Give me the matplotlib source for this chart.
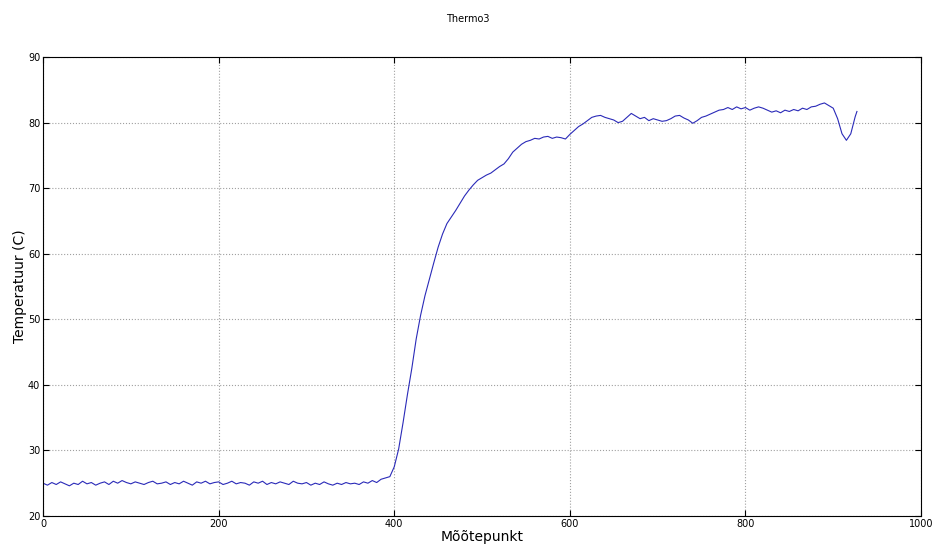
import numpy as np
import matplotlib
matplotlib.use("Agg")
import matplotlib.pyplot as plt

baseline = [25.0, 24.7, 25.1, 24.8, 25.2, 24.9, 24.6, 25.0, 24.8, 25.3,
            24.9, 25.1, 24.7, 25.0, 25.2, 24.8, 25.3, 25.0, 25.4, 25.1,
            24.9, 25.2, 25.0, 24.8, 25.1, 25.3, 24.9, 25.0, 25.2, 24.8,
            25.1, 24.9, 25.3, 25.0, 24.7, 25.2, 25.0, 25.3, 24.9, 25.1,
            25.2, 24.8, 25.0, 25.3, 24.9, 25.1, 25.0, 24.7, 25.2, 25.0,
            25.3, 24.8, 25.1, 24.9, 25.2, 25.0, 24.8, 25.3, 25.0, 24.9,
            25.1, 24.7, 25.0, 24.8, 25.2, 24.9, 24.7, 25.0, 24.8, 25.1,
            24.9, 25.0, 24.8, 25.2, 25.0, 25.4, 25.1, 25.6]
rise = [25.8, 26.0, 27.5, 30.2, 34.2, 38.5, 42.5, 47.0, 50.6, 53.6,
        56.1, 58.6, 61.0, 63.0, 64.6, 65.6, 66.6, 67.7, 68.8, 69.7,
        70.5, 71.2, 71.6, 72.0, 72.3, 72.8, 73.3, 73.7, 74.5, 75.5,
        76.1, 76.7, 77.1, 77.3, 77.6, 77.5, 77.8, 77.9, 77.6, 77.8,
        77.7, 77.5]
plateau = [78.2, 78.8, 79.4, 79.8, 80.3, 80.8, 81.0, 81.1, 80.8, 80.6,
           80.4, 80.0, 80.2, 80.8, 81.4, 81.0, 80.6, 80.8, 80.3, 80.6,
           80.4, 80.2, 80.3, 80.6, 81.0, 81.1, 80.7, 80.4, 79.9, 80.3,
           80.8, 81.0, 81.3, 81.6, 81.9, 82.0, 82.3, 82.0, 82.4, 82.1,
           82.3, 81.9, 82.2, 82.4, 82.2, 81.9, 81.6, 81.8, 81.5, 81.9,
           81.7, 82.0, 81.8, 82.2, 82.0, 82.4, 82.5, 82.8, 83.0, 82.6,
           82.2, 80.6, 78.3, 77.3, 78.3, 80.9]
tail = [81.7]
tail_point = 927
step = 5

temps = baseline + rise + plateau
points = list(np.arange(len(temps)) * step) + [tail_point]
temps = temps + tail

fig = plt.figure(figsize=(9.36, 5.46), dpi=100)
ax = fig.add_axes([0.046, 0.055, 0.938, 0.8405])
ax.plot(points, temps, color='#2a2ab8', linewidth=0.8)
ax.set_xlim(0, 1000)
ax.set_ylim(20, 90)
ax.set_xticks(range(0, 1001, 200))
ax.set_yticks(range(20, 91, 10))
ax.grid(True, linestyle=':', color='#a0a0a0', linewidth=0.8)
ax.tick_params(direction='in', top=True, right=True, labelsize=7, length=4, pad=2)
for s in ax.spines.values():
    s.set_linewidth(0.8)
ax.set_xlabel('Mõõtepunkt', fontsize=10, labelpad=1)
ax.set_ylabel('Temperatuur (C)', fontsize=10, labelpad=1)
fig.suptitle('Thermo3', fontsize=7, y=0.975)
fig.savefig('out.png', dpi=100)
